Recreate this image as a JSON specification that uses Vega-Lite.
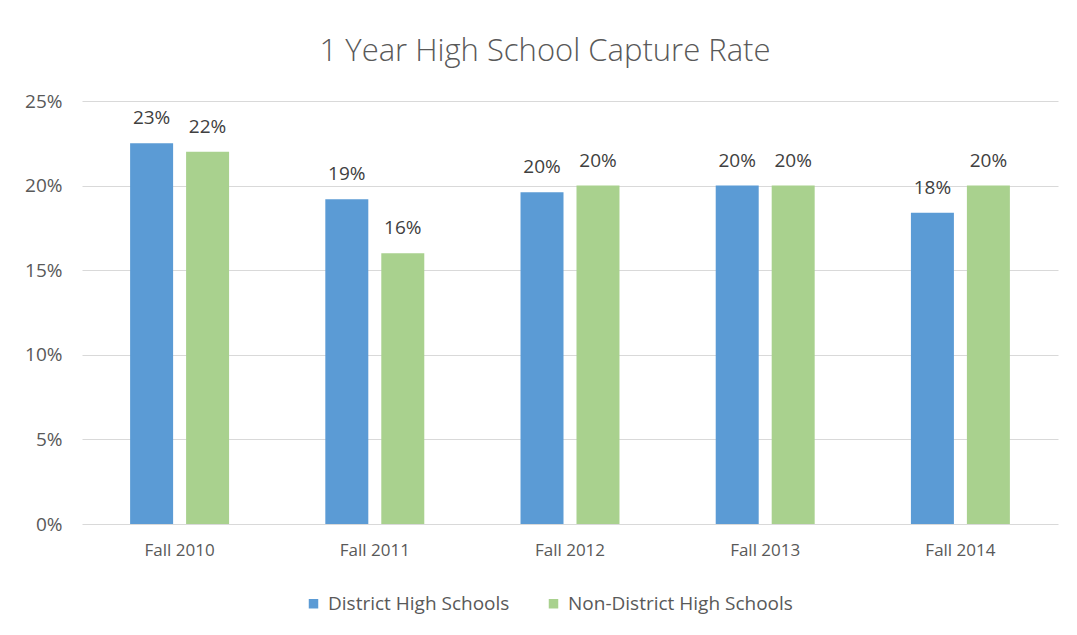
{
  "$schema": "https://vega.github.io/schema/vega-lite/v6.json",
  "width": 976,
  "height": 423,
  "autosize": {"type": "none"},
  "padding": {"left": 82, "top": 101, "right": 19, "bottom": 111},
  "background": "white",
  "config": {
    "view": {"stroke": null},
    "font": "Open Sans",
    "axis": {"labelColor": "#595959", "labelFontSize": 17, "titleColor": "#595959"},
    "legend": {"labelColor": "#595959", "labelFontSize": 19, "labelLimit": 0}
  },
  "title": {
    "text": "1 Year High School Capture Rate",
    "anchor": "middle",
    "frame": "group",
    "fontSize": 31,
    "fontWeight": 300,
    "color": "#595959",
    "dx": -25,
    "offset": 24
  },
  "data": {
    "values": [
      {"term": "Fall 2010", "group": "District High Schools", "rate": 0.225},
      {"term": "Fall 2010", "group": "Non-District High Schools", "rate": 0.22},
      {"term": "Fall 2011", "group": "District High Schools", "rate": 0.192},
      {"term": "Fall 2011", "group": "Non-District High Schools", "rate": 0.16},
      {"term": "Fall 2012", "group": "District High Schools", "rate": 0.196},
      {"term": "Fall 2012", "group": "Non-District High Schools", "rate": 0.2},
      {"term": "Fall 2013", "group": "District High Schools", "rate": 0.2},
      {"term": "Fall 2013", "group": "Non-District High Schools", "rate": 0.2},
      {"term": "Fall 2014", "group": "District High Schools", "rate": 0.184},
      {"term": "Fall 2014", "group": "Non-District High Schools", "rate": 0.2}
    ]
  },
  "encoding": {
    "x": {
      "field": "term",
      "type": "nominal",
      "title": null,
      "scale": {"paddingInner": 0.493, "paddingOuter": 0.2465},
      "axis": {"labelAngle": 0, "domain": false, "ticks": false, "labelPadding": 18}
    },
    "xOffset": {
      "field": "group",
      "type": "nominal",
      "scale": {"paddingInner": 0.232, "paddingOuter": 0}
    },
    "y": {
      "field": "rate",
      "type": "quantitative",
      "title": null,
      "scale": {"domain": [0, 0.25]},
      "axis": {
        "format": ".0%",
        "values": [0, 0.05, 0.1, 0.15, 0.2, 0.25],
        "domain": false,
        "ticks": false,
        "labelPadding": 20,
        "labelFontSize": 19,
        "gridColor": "#D9D9D9",
        "gridWidth": 1
      }
    }
  },
  "layer": [
    {
      "mark": {"type": "bar"},
      "encoding": {
        "color": {
          "field": "group",
          "type": "nominal",
          "scale": {"range": ["#5B9BD5", "#A9D18E"]},
          "legend": {
            "title": null,
            "orient": "none",
            "direction": "horizontal",
            "legendX": 222,
            "legendY": 493,
            "symbolType": "square",
            "symbolSize": 90,
            "symbolStrokeWidth": 0,
            "labelOffset": 5,
            "columnPadding": 34
          }
        }
      }
    },
    {
      "mark": {"type": "text", "baseline": "alphabetic", "dy": -19, "fontSize": 19, "color": "#404040"},
      "encoding": {
        "text": {"field": "rate", "type": "quantitative", "format": ".0%"}
      }
    }
  ]
}
